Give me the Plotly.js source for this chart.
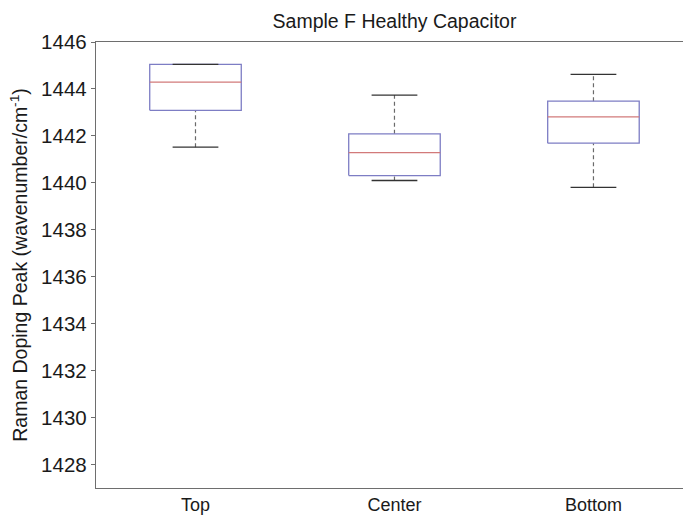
<!DOCTYPE html>
<html>
<head>
<meta charset="utf-8">
<script src="https://cdn.plot.ly/plotly-3.0.1.min.js"></script>
<style>
  html, body { margin: 0; padding: 0; overflow: hidden; background: #fff; }
  #chart { width: 683px; height: 517px; }
</style>
</head>
<body>
<div id="chart"></div>
<script>
// Box-plot statistics for each capacitor location (wavenumber, cm^-1)
const categories   = ['Top', 'Center', 'Bottom'];
const lowerWhisker = [1441.52, 1440.10, 1439.81];
const q1           = [1443.09, 1440.31, 1441.69];
const median       = [1444.29, 1441.29, 1442.81];
const q3           = [1445.05, 1442.09, 1443.48];
const upperWhisker = [1445.05, 1443.74, 1444.62];

const boxWidth = 0.46;
const capWidth = boxWidth / 2;

// Build line paths in data coordinates (null breaks separate segments)
const boxX = [], boxY = [], medX = [], medY = [];
const whiskX = [], whiskY = [], capX = [], capY = [];
categories.forEach((c, i) => {
  const p = i + 1, a = p - boxWidth / 2, b = p + boxWidth / 2;
  boxX.push(a, b, b, a, a, null);
  boxY.push(q1[i], q1[i], q3[i], q3[i], q1[i], null);
  medX.push(a, b, null);
  medY.push(median[i], median[i], null);
  whiskX.push(p, p, null, p, p, null);
  whiskY.push(q3[i], upperWhisker[i], null, lowerWhisker[i], q1[i], null);
  capX.push(p - capWidth / 2, p + capWidth / 2, null, p - capWidth / 2, p + capWidth / 2, null);
  capY.push(upperWhisker[i], upperWhisker[i], null, lowerWhisker[i], lowerWhisker[i], null);
});

const traces = [
  { x: whiskX, y: whiskY, mode: 'lines', line: { color: '#6a6a6a', width: 1.2, dash: '4px,3px' }, hoverinfo: 'skip' },
  { x: boxX, y: boxY, mode: 'lines', line: { color: '#7d7dc4', width: 1.3 }, hoverinfo: 'skip' },
  { x: medX, y: medY, mode: 'lines', line: { color: '#d27a7a', width: 1.3 }, hoverinfo: 'skip' },
  { x: capX, y: capY, mode: 'lines', line: { color: '#333333', width: 1.3 }, hoverinfo: 'skip' }
];

const font = 'Liberation Sans, Arial, Helvetica, sans-serif';

// Axes run on past the right edge of the figure, so the x range is open-ended there
const layout = {
  width: 683,
  height: 517,
  margin: { l: 96, r: 0, t: 42, b: 29 },
  paper_bgcolor: '#ffffff',
  plot_bgcolor: '#ffffff',
  showlegend: false,
  font: { family: font, color: '#1a1a1a' },
  title: {
    text: 'Sample F Healthy Capacitor',
    font: { family: font, size: 19.5, color: '#1a1a1a' },
    x: 0.5085, xref: 'paper', xanchor: 'center',
    y: 18, yref: 'container', yanchor: 'middle'
  },
  xaxis: {
    range: [0.5, 3.45],
    tickmode: 'array',
    tickvals: [1, 2, 3],
    ticktext: categories,
    ticks: '',
    showgrid: false,
    zeroline: false,
    showline: true,
    linecolor: '#6e6e6e',
    linewidth: 1.2,
    mirror: true,
    tickfont: { family: font, size: 18, color: '#1a1a1a' }
  },
  yaxis: {
    range: [1427, 1446],
    tickmode: 'linear',
    tick0: 1428,
    dtick: 2,
    ticks: 'outside',
    ticklen: 4,
    tickcolor: '#6e6e6e',
    showgrid: false,
    zeroline: false,
    showline: true,
    linecolor: '#6e6e6e',
    linewidth: 1.2,
    tickfont: { family: font, size: 20.5, color: '#1a1a1a' },
    title: {
      text: 'Raman Doping Peak (wavenumber/cm<sup>-1</sup>)',
      font: { family: font, size: 19.5, color: '#1a1a1a' },
      standoff: 8
    }
  }
};

Plotly.newPlot('chart', traces, layout, { displayModeBar: false, staticPlot: true });
</script>
</body>
</html>
